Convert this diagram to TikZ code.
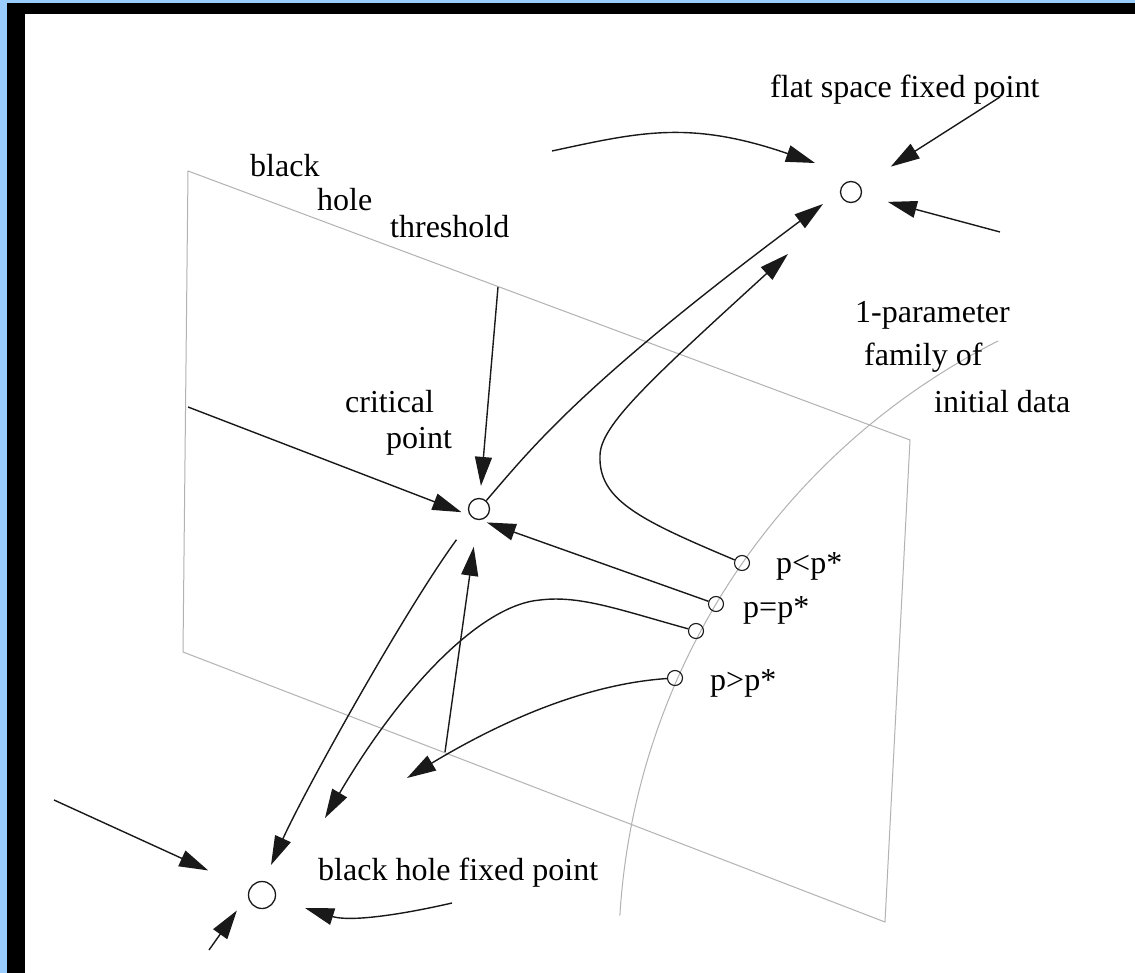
\documentclass[tikz,border=0pt]{standalone}
\usepackage{fontspec}
\setmainfont{Liberation Serif}
\usetikzlibrary{arrows.meta}
\definecolor{frameblue}{RGB}{153,204,255}
\definecolor{planegray}{RGB}{178,178,178}
\definecolor{ink}{RGB}{25,25,25}

\begin{document}
\begin{tikzpicture}[x=1pt,y=-1pt,
  flow/.style={draw=ink, line width=1.4pt, -{Triangle[length=29pt,width=17pt]}},
  guide/.style={draw=planegray, line width=1pt},
  fixpt/.style={circle, draw=ink, line width=1.3pt, inner sep=0pt, minimum size=#1},
  datapt/.style={circle, draw=ink, line width=1.1pt, inner sep=0pt, minimum size=15pt},
  txt/.style={anchor=base west, inner sep=0pt, font=\fontsize{32}{38}\selectfont, text=black}
]
% page and frame
\fill[white] (0,0) rectangle (1135,973);
\fill[frameblue] (0,0) rectangle (1135,3);
\fill[frameblue] (0,0) rectangle (7,973);
\fill[black] (7,3) rectangle (1135,14);
\fill[black] (7,3) rectangle (25,973);
\useasboundingbox (0,0) rectangle (1135,973);

% critical surface (black hole threshold)
\draw[guide] (188,171) -- (910,440) -- (885,922) -- (183,652) -- cycle;
% one-parameter family of initial data
\draw[guide] (998,341) arc[start angle=-116.8, end angle=-176.5, radius=691];

% fixed points and initial data
\node[fixpt=21pt] (flat) at (851,192) {};
\node[fixpt=21pt] (crit) at (479,509) {};
\node[fixpt=27pt] (bh) at (262,895) {};
\node[datapt] (pless) at (742,563) {};
\node[datapt] (peq) at (716,604) {};
\node[datapt] (pnear) at (696,631) {};
\node[datapt] (pmore) at (675,678) {};

% labels
\node[txt] (tflat) at (770,98) {flat space fixed point};
\node[txt] (tblack) at (250,177) {black};
\node[txt] (thole) at (317,211) {hole};
\node[txt] (tthr) at (390,238) {threshold};
\node[txt] (tcrit) at (345,413) {critical};
\node[txt] (tpoint) at (386,448) {point};
\node[txt] (tfam1) at (855,323) {1-parameter};
\node[txt] (tfam2) at (864,366) {family of};
\node[txt] (tfam3) at (934,413) {initial data};
\node[txt] (tless) at (776,573) {p<p*};
\node[txt] (teq) at (743,617) {p=p*};
\node[txt] (tmore) at (710,690) {p>p*};
\node[txt] (tbh) at (318,880) {black hole fixed point};

% free ends of the flow lines
\coordinate (fa) at (552,151);
\coordinate (fatip) at (815,163);
\coordinate (fb) at (1000,97);
\coordinate (fc) at (1000,232);
\coordinate (cftip) at (823,204);
\coordinate (plesstip) at (788,254);
\coordinate (thr) at (498,287);
\coordinate (lft) at (188,407);
\coordinate (apex) at (445,752);
\coordinate (cbtip) at (271,865);
\coordinate (pneartip) at (325,818);
\coordinate (pmoretip) at (407,778);
\coordinate (bha) at (54,800);
\coordinate (bhb) at (209,950);
\coordinate (bhc) at (452,903);
\coordinate (bhctip) at (305,908);

% flow into the flat space fixed point
\draw[flow] (fa) .. controls (640,132) and (690,120) .. (fatip);
\draw[flow, shorten >=36pt] (fb) -- (flat);
\draw[flow, shorten >=27pt] (fc) -- (flat);
\draw[flow] (crit) .. controls (530,450) and (580,385) .. (cftip);
\draw[flow] (pless) .. controls (640,520) and (598,500) .. (600,455)
                    .. controls (601,425) and (650,380) .. (plesstip);

% flow into the critical point
\draw[flow, shorten >=12pt] (thr) -- (crit);
\draw[flow, shorten >=9pt] (lft) -- (crit.215);
\draw[flow, shorten >=7pt] (peq) -- (crit.276);
\draw[flow, shorten >=27pt] (apex) -- (crit);

% flow towards the black hole fixed point
\draw[flow, shorten <=27pt] (crit) .. controls (405,610) and (305,790) .. (cbtip);
\draw[flow] (pnear) .. controls (620,610) and (580,595) .. (540,600)
                    .. controls (480,605) and (400,690) .. (pneartip);
\draw[flow] (pmore) .. controls (600,683) and (520,710) .. (pmoretip);
\draw[flow, shorten >=45pt] (bha) -- (bh);
\draw[flow, shorten >=19pt] (bhb) -- (bh.180);
\draw[flow] (bhc) .. controls (400,915) and (350,922) .. (bhctip);
\end{tikzpicture}
\end{document}
